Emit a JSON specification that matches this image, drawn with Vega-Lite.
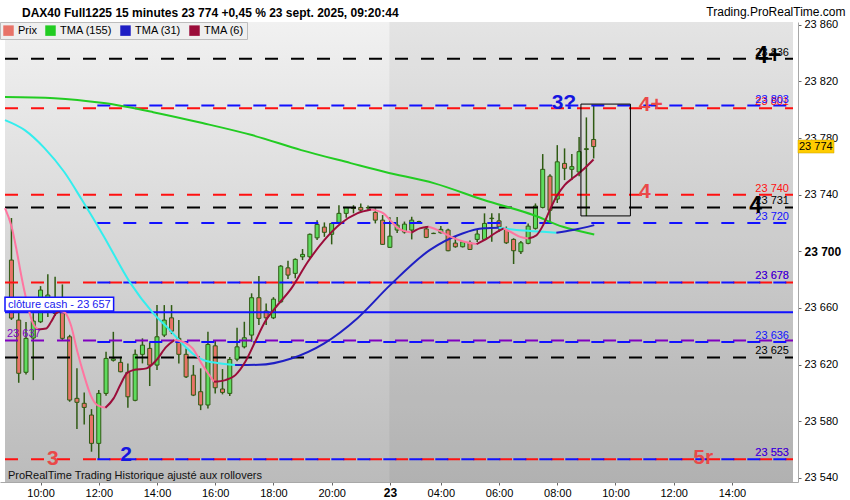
{
  "$schema": "https://vega.github.io/schema/vega-lite/v6.json",
  "width": 798,
  "height": 460,
  "autosize": {"type": "none"},
  "padding": {"left": 0, "top": 22, "right": 52, "bottom": 18},
  "background": "#ffffff",
  "title": {
    "text": "DAX40 Full1225 15 minutes 23 774 +0,45 % 23 sept. 2025, 09:20:44",
    "anchor": "start",
    "frame": "group",
    "orient": "top",
    "offset": 0,
    "dx": 22,
    "dy": 24,
    "baseline": "alphabetic",
    "font": "Liberation Sans",
    "fontSize": 12,
    "fontWeight": "bold",
    "color": "#000000"
  },
  "datasets": {
    "fond": [{"t1": -4.885, "t2": 103.39, "p1": 23537, "p2": 23862}],
    "jour": [{"t1": 47.93, "t2": 103.39, "p1": 23537, "p2": 23862}],
    "bougies": [
      {"t": -4, "o": 23693.8, "h": 23723.5, "l": 23651.5, "c": 23652.8},
      {"t": -3, "o": 23651.4, "h": 23657.0, "l": 23607.1, "c": 23613.8},
      {"t": -2, "o": 23614.5, "h": 23650.0, "l": 23613.0, "c": 23638.5},
      {"t": -1, "o": 23638.7, "h": 23656.3, "l": 23609.0, "c": 23650.7},
      {"t": 0, "o": 23650.2, "h": 23675.4, "l": 23649.3, "c": 23672.6},
      {"t": 1, "o": 23657.1, "h": 23683.7, "l": 23653.5, "c": 23669.1},
      {"t": 2, "o": 23656.1, "h": 23682.0, "l": 23654.2, "c": 23664.1},
      {"t": 3, "o": 23662.0, "h": 23676.6, "l": 23637.3, "c": 23638.5},
      {"t": 4, "o": 23639.6, "h": 23641.0, "l": 23593.7, "c": 23594.9},
      {"t": 5, "o": 23596.1, "h": 23617.3, "l": 23574.4, "c": 23593.3},
      {"t": 6, "o": 23592.6, "h": 23600.3, "l": 23577.7, "c": 23589.7},
      {"t": 7, "o": 23584.3, "h": 23588.5, "l": 23558.4, "c": 23564.3},
      {"t": 8, "o": 23564.3, "h": 23602.0, "l": 23553.0, "c": 23599.6},
      {"t": 9, "o": 23599.6, "h": 23629.0, "l": 23598.0, "c": 23624.3},
      {"t": 10, "o": 23623.0, "h": 23643.1, "l": 23622.1, "c": 23624.0},
      {"t": 11, "o": 23621.5, "h": 23625.5, "l": 23614.5, "c": 23614.9},
      {"t": 12, "o": 23614.5, "h": 23620.8, "l": 23589.5, "c": 23597.2},
      {"t": 13, "o": 23594.7, "h": 23630.7, "l": 23594.0, "c": 23627.2},
      {"t": 14, "o": 23627.2, "h": 23638.5, "l": 23620.8, "c": 23633.7},
      {"t": 15, "o": 23631.4, "h": 23635.6, "l": 23604.8, "c": 23619.6},
      {"t": 16, "o": 23619.6, "h": 23662.0, "l": 23616.1, "c": 23639.6},
      {"t": 17, "o": 23640.8, "h": 23662.0, "l": 23639.4, "c": 23651.4},
      {"t": 18, "o": 23653.0, "h": 23662.0, "l": 23641.5, "c": 23643.6},
      {"t": 19, "o": 23638.5, "h": 23651.4, "l": 23620.8, "c": 23627.2},
      {"t": 20, "o": 23627.2, "h": 23631.4, "l": 23610.4, "c": 23611.3},
      {"t": 21, "o": 23612.5, "h": 23619.6, "l": 23597.7, "c": 23598.4},
      {"t": 22, "o": 23600.8, "h": 23617.3, "l": 23587.8, "c": 23591.4},
      {"t": 23, "o": 23591.4, "h": 23643.1, "l": 23589.0, "c": 23634.2},
      {"t": 24, "o": 23633.2, "h": 23637.3, "l": 23599.6, "c": 23603.6},
      {"t": 25, "o": 23602.7, "h": 23616.8, "l": 23598.9, "c": 23600.3},
      {"t": 26, "o": 23599.6, "h": 23625.3, "l": 23597.7, "c": 23623.6},
      {"t": 27, "o": 23623.8, "h": 23646.0, "l": 23622.4, "c": 23632.5},
      {"t": 28, "o": 23632.5, "h": 23650.2, "l": 23631.4, "c": 23638.9},
      {"t": 29, "o": 23640.8, "h": 23670.3, "l": 23636.1, "c": 23667.2},
      {"t": 30, "o": 23667.2, "h": 23682.5, "l": 23647.9, "c": 23652.6},
      {"t": 31, "o": 23657.8, "h": 23663.2, "l": 23647.9, "c": 23653.0},
      {"t": 32, "o": 23653.0, "h": 23667.6, "l": 23652.1, "c": 23666.2},
      {"t": 33, "o": 23664.3, "h": 23690.2, "l": 23663.4, "c": 23689.5},
      {"t": 34, "o": 23688.3, "h": 23693.3, "l": 23680.4, "c": 23683.2},
      {"t": 35, "o": 23684.4, "h": 23695.0, "l": 23680.9, "c": 23694.3},
      {"t": 36, "o": 23696.1, "h": 23701.6, "l": 23693.8, "c": 23697.8},
      {"t": 37, "o": 23696.1, "h": 23712.5, "l": 23695.0, "c": 23712.0},
      {"t": 38, "o": 23709.5, "h": 23722.0, "l": 23708.0, "c": 23719.0},
      {"t": 39, "o": 23717.1, "h": 23720.4, "l": 23710.2, "c": 23713.4},
      {"t": 40, "o": 23712.0, "h": 23720.2, "l": 23704.9, "c": 23719.7},
      {"t": 41, "o": 23720.4, "h": 23732.6, "l": 23720.0, "c": 23726.8},
      {"t": 42, "o": 23726.8, "h": 23731.2, "l": 23723.7, "c": 23731.0},
      {"t": 43, "o": 23730.2, "h": 23732.6, "l": 23726.8, "c": 23730.6},
      {"t": 44, "o": 23731.0, "h": 23733.8, "l": 23728.5, "c": 23729.1},
      {"t": 45, "o": 23730.7, "h": 23732.3, "l": 23729.1, "c": 23730.9},
      {"t": 46, "o": 23727.5, "h": 23730.3, "l": 23719.7, "c": 23722.0},
      {"t": 47, "o": 23722.0, "h": 23725.6, "l": 23704.5, "c": 23704.9},
      {"t": 48, "o": 23702.8, "h": 23724.0, "l": 23702.5, "c": 23710.7},
      {"t": 49, "o": 23715.0, "h": 23724.2, "l": 23712.9, "c": 23718.5},
      {"t": 50, "o": 23713.6, "h": 23721.0, "l": 23712.5, "c": 23719.2},
      {"t": 51, "o": 23715.0, "h": 23724.4, "l": 23708.4, "c": 23722.0},
      {"t": 52, "o": 23720.8, "h": 23721.6, "l": 23720.3, "c": 23721.0},
      {"t": 53, "o": 23715.8, "h": 23717.8, "l": 23709.3, "c": 23709.8},
      {"t": 54, "o": 23712.7, "h": 23713.2, "l": 23712.2, "c": 23712.5},
      {"t": 55, "o": 23713.1, "h": 23717.8, "l": 23712.5, "c": 23715.5},
      {"t": 56, "o": 23715.0, "h": 23716.0, "l": 23700.0, "c": 23700.4},
      {"t": 57, "o": 23705.8, "h": 23710.2, "l": 23702.5, "c": 23703.2},
      {"t": 58, "o": 23703.2, "h": 23707.3, "l": 23702.7, "c": 23706.7},
      {"t": 59, "o": 23706.0, "h": 23707.6, "l": 23700.9, "c": 23701.3},
      {"t": 60, "o": 23708.4, "h": 23715.0, "l": 23706.5, "c": 23712.2},
      {"t": 61, "o": 23708.4, "h": 23726.8, "l": 23707.9, "c": 23719.7},
      {"t": 62, "o": 23723.1, "h": 23726.8, "l": 23706.7, "c": 23723.4},
      {"t": 63, "o": 23721.5, "h": 23726.8, "l": 23713.8, "c": 23717.3},
      {"t": 64, "o": 23715.5, "h": 23717.5, "l": 23705.2, "c": 23706.0},
      {"t": 65, "o": 23708.4, "h": 23709.2, "l": 23691.0, "c": 23700.4},
      {"t": 66, "o": 23699.7, "h": 23707.3, "l": 23698.0, "c": 23706.0},
      {"t": 67, "o": 23705.6, "h": 23719.6, "l": 23705.0, "c": 23717.8},
      {"t": 68, "o": 23716.2, "h": 23733.8, "l": 23715.3, "c": 23732.0},
      {"t": 69, "o": 23731.0, "h": 23768.7, "l": 23730.3, "c": 23757.9},
      {"t": 70, "o": 23753.1, "h": 23754.5, "l": 23720.1, "c": 23729.0},
      {"t": 71, "o": 23736.9, "h": 23775.0, "l": 23734.1, "c": 23763.2},
      {"t": 72, "o": 23762.1, "h": 23772.7, "l": 23750.3, "c": 23758.6},
      {"t": 73, "o": 23757.9, "h": 23768.7, "l": 23750.3, "c": 23759.8},
      {"t": 74, "o": 23756.0, "h": 23780.7, "l": 23753.1, "c": 23770.4},
      {"t": 75, "o": 23771.9, "h": 23794.6, "l": 23724.9, "c": 23772.5},
      {"t": 76, "o": 23779.0, "h": 23803.0, "l": 23765.6, "c": 23774.0}
    ],
    "niveaux": [
      {"p": 23836, "k": "noir", "trait": "tirets", "t1": -4.885, "t2": 103.39, "fin": "23 836"},
      {"p": 23801, "k": "rouge", "trait": "tirets", "t1": -4.885, "t2": 103.39, "fin": "23 801"},
      {"p": 23740, "k": "rouge", "trait": "tirets", "t1": -4.885, "t2": 103.39, "fin": "23 740"},
      {"p": 23731, "k": "noir", "trait": "tirets", "t1": -4.885, "t2": 103.39, "fin": "23 731"},
      {"p": 23678, "k": "rouge", "trait": "tirets", "t1": -4.885, "t2": 103.39, "fin": "23 678"},
      {"p": 23637, "k": "violet", "trait": "tirets", "t1": -4.885, "t2": 103.39, "debut": "23 637"},
      {"p": 23625, "k": "noir", "trait": "tirets", "t1": -4.885, "t2": 103.39, "fin": "23 625"},
      {"p": 23553, "k": "rouge", "trait": "tirets", "t1": -4.885, "t2": 103.39, "fin": "23 553"},
      {"p": 23803, "k": "bleu", "trait": "tirets", "t1": 7.8, "t2": 103.39, "fin": "23 803"},
      {"p": 23720, "k": "bleu", "trait": "tirets", "t1": 7.8, "t2": 103.39, "fin": "23 720"},
      {"p": 23678, "k": "bleu", "trait": "tirets", "t1": 7.8, "t2": 103.39, "fin": "23 678"},
      {"p": 23636, "k": "bleu", "trait": "tirets", "t1": 7.8, "t2": 103.39, "fin": "23 636"},
      {"p": 23553, "k": "bleu", "trait": "tirets", "t1": 7.8, "t2": 103.39, "fin": "23 553"},
      {"p": 23657, "k": "bleu", "trait": "plein", "t1": -4.885, "t2": 103.39}
    ],
    "moyennes": [
      {"k": "TMA (155)", "seg": "v", "t": -4.885, "p": 23809.0},
      {"k": "TMA (155)", "seg": "v", "t": 1.9, "p": 23808.2},
      {"k": "TMA (155)", "seg": "v", "t": 8.68, "p": 23804.7},
      {"k": "TMA (155)", "seg": "v", "t": 15.47, "p": 23798.3},
      {"k": "TMA (155)", "seg": "v", "t": 22.25, "p": 23790.6},
      {"k": "TMA (155)", "seg": "v", "t": 29.04, "p": 23782.1},
      {"k": "TMA (155)", "seg": "v", "t": 35.82, "p": 23771.5},
      {"k": "TMA (155)", "seg": "v", "t": 42.61, "p": 23762.3},
      {"k": "TMA (155)", "seg": "v", "t": 47.35, "p": 23756.0},
      {"k": "TMA (155)", "seg": "v", "t": 54.14, "p": 23748.0},
      {"k": "TMA (155)", "seg": "v", "t": 60.92, "p": 23736.2},
      {"k": "TMA (155)", "seg": "v", "t": 67.71, "p": 23725.6},
      {"k": "TMA (155)", "seg": "v", "t": 71.78, "p": 23717.3},
      {"k": "TMA (155)", "seg": "v", "t": 76.08, "p": 23711.9},

      {"k": "TMA (31) b", "seg": "c1", "t": -4.885, "p": 23792.7},
      {"k": "TMA (31) b", "seg": "c1", "t": -2.17, "p": 23785.6},
      {"k": "TMA (31) b", "seg": "c1", "t": 0.54, "p": 23772.9},
      {"k": "TMA (31) b", "seg": "c1", "t": 3.26, "p": 23756.0},
      {"k": "TMA (31) b", "seg": "c1", "t": 5.7, "p": 23736.2},
      {"k": "TMA (31) b", "seg": "c1", "t": 8.68, "p": 23710.7},
      {"k": "TMA (31) b", "seg": "c1", "t": 12.35, "p": 23677.5},
      {"k": "TMA (31) b", "seg": "c1", "t": 15.47, "p": 23656.3},
      {"k": "TMA (31) b", "seg": "c1", "t": 17.77, "p": 23644.3},
      {"k": "TMA (31) b", "seg": "c1", "t": 19.95, "p": 23632.3},
      {"k": "TMA (31) b", "seg": "c1", "t": 21.17, "p": 23626.7},
      {"k": "TMA (31) b", "seg": "c1", "t": 22.25, "p": 23623.5},
      {"k": "TMA (31) b", "seg": "c1", "t": 24.29, "p": 23621.0},
      {"k": "TMA (31) b", "seg": "c1", "t": 26.73, "p": 23619.6},
      {"k": "TMA (31)", "seg": "b1", "t": 26.73, "p": 23619.6},
      {"k": "TMA (31)", "seg": "b1", "t": 29.95, "p": 23619.8},
      {"k": "TMA (31)", "seg": "b1", "t": 34.46, "p": 23624.3},
      {"k": "TMA (31)", "seg": "b1", "t": 38.98, "p": 23635.0},
      {"k": "TMA (31)", "seg": "b1", "t": 43.51, "p": 23652.6},
      {"k": "TMA (31)", "seg": "b1", "t": 48.03, "p": 23676.1},
      {"k": "TMA (31)", "seg": "b1", "t": 53.46, "p": 23700.8},
      {"k": "TMA (31)", "seg": "b1", "t": 57.98, "p": 23712.6},
      {"k": "TMA (31)", "seg": "b1", "t": 60.92, "p": 23716.2},
      {"k": "TMA (31)", "seg": "b1", "t": 62.96, "p": 23716.6},
      {"k": "TMA (31) b", "seg": "c2", "t": 62.96, "p": 23716.6},
      {"k": "TMA (31) b", "seg": "c2", "t": 65.4, "p": 23715.0},
      {"k": "TMA (31) b", "seg": "c2", "t": 69.06, "p": 23713.8},
      {"k": "TMA (31) b", "seg": "c2", "t": 70.87, "p": 23713.1},
      {"k": "TMA (31)", "seg": "b2", "t": 70.87, "p": 23713.1},
      {"k": "TMA (31)", "seg": "b2", "t": 73.13, "p": 23715.0},
      {"k": "TMA (31)", "seg": "b2", "t": 76.08, "p": 23718.5},

      {"k": "TMA (6) b", "seg": "r1", "t": -4.885, "p": 23730.5},
      {"k": "TMA (6) b", "seg": "r1", "t": -3.976, "p": 23717.3},
      {"k": "TMA (6) b", "seg": "r1", "t": -3.297, "p": 23700.9},
      {"k": "TMA (6) b", "seg": "r1", "t": -2.619, "p": 23682.0},
      {"k": "TMA (6) b", "seg": "r1", "t": -1.94, "p": 23665.5},
      {"k": "TMA (6) b", "seg": "r1", "t": -1.045, "p": 23649.1},
      {"k": "TMA (6) b", "seg": "r1", "t": -0.366, "p": 23644.8},
      {"k": "TMA (6)", "seg": "r2", "t": -0.366, "p": 23644.8},
      {"k": "TMA (6)", "seg": "r2", "t": 0.773, "p": 23645.5},
      {"k": "TMA (6)", "seg": "r2", "t": 1.452, "p": 23650.2},
      {"k": "TMA (6)", "seg": "r2", "t": 2.13, "p": 23656.1},
      {"k": "TMA (6)", "seg": "r2", "t": 2.714, "p": 23657.8},
      {"k": "TMA (6) b", "seg": "r3", "t": 2.714, "p": 23657.8},
      {"k": "TMA (6) b", "seg": "r3", "t": 3.256, "p": 23657.1},
      {"k": "TMA (6) b", "seg": "r3", "t": 4.166, "p": 23647.9},
      {"k": "TMA (6) b", "seg": "r3", "t": 5.061, "p": 23629.0},
      {"k": "TMA (6) b", "seg": "r3", "t": 5.97, "p": 23612.5},
      {"k": "TMA (6) b", "seg": "r3", "t": 6.879, "p": 23598.4},
      {"k": "TMA (6) b", "seg": "r3", "t": 7.775, "p": 23591.4},
      {"k": "TMA (6) b", "seg": "r3", "t": 8.915, "p": 23589.5},
      {"k": "TMA (6)", "seg": "r4", "t": 8.915, "p": 23589.5},
      {"k": "TMA (6)", "seg": "r4", "t": 10.041, "p": 23596.1},
      {"k": "TMA (6)", "seg": "r4", "t": 10.95, "p": 23605.5},
      {"k": "TMA (6)", "seg": "r4", "t": 11.845, "p": 23613.8},
      {"k": "TMA (6)", "seg": "r4", "t": 12.754, "p": 23616.1},
      {"k": "TMA (6)", "seg": "r4", "t": 14.559, "p": 23617.3},
      {"k": "TMA (6)", "seg": "r4", "t": 15.916, "p": 23623.1},
      {"k": "TMA (6)", "seg": "r4", "t": 17.273, "p": 23632.5},
      {"k": "TMA (6)", "seg": "r4", "t": 18.413, "p": 23637.3},
      {"k": "TMA (6) b", "seg": "r5", "t": 18.413, "p": 23637.3},
      {"k": "TMA (6) b", "seg": "r5", "t": 19.77, "p": 23635.6},
      {"k": "TMA (6) b", "seg": "r5", "t": 20.9, "p": 23631.4},
      {"k": "TMA (6) b", "seg": "r5", "t": 22.25, "p": 23619.6},
      {"k": "TMA (6) b", "seg": "r5", "t": 23.84, "p": 23607.8},
      {"k": "TMA (6)", "seg": "r6", "t": 23.84, "p": 23607.8},
      {"k": "TMA (6)", "seg": "r6", "t": 25.41, "p": 23609.0},
      {"k": "TMA (6)", "seg": "r6", "t": 26.77, "p": 23612.5},
      {"k": "TMA (6)", "seg": "r6", "t": 28.13, "p": 23621.9},
      {"k": "TMA (6)", "seg": "r6", "t": 29.49, "p": 23636.1},
      {"k": "TMA (6)", "seg": "r6", "t": 30.84, "p": 23650.2},
      {"k": "TMA (6)", "seg": "r6", "t": 32.2, "p": 23659.7},
      {"k": "TMA (6)", "seg": "r6", "t": 34.46, "p": 23673.8},
      {"k": "TMA (6)", "seg": "r6", "t": 36.73, "p": 23692.6},
      {"k": "TMA (6)", "seg": "r6", "t": 38.98, "p": 23707.9},
      {"k": "TMA (6)", "seg": "r6", "t": 41.25, "p": 23719.7},
      {"k": "TMA (6)", "seg": "r6", "t": 43.51, "p": 23726.8},
      {"k": "TMA (6)", "seg": "r6", "t": 45.45, "p": 23729.5},
      {"k": "TMA (6) b", "seg": "r7", "t": 45.45, "p": 23729.5},
      {"k": "TMA (6) b", "seg": "r7", "t": 47.12, "p": 23726.8},
      {"k": "TMA (6) b", "seg": "r7", "t": 48.03, "p": 23722.0},
      {"k": "TMA (6) b", "seg": "r7", "t": 49.16, "p": 23716.2},
      {"k": "TMA (6) b", "seg": "r7", "t": 50.98, "p": 23713.2},
      {"k": "TMA (6)", "seg": "r8", "t": 50.98, "p": 23713.2},
      {"k": "TMA (6)", "seg": "r8", "t": 52.1, "p": 23716.2},
      {"k": "TMA (6)", "seg": "r8", "t": 53.32, "p": 23717.3},
      {"k": "TMA (6) b", "seg": "r9", "t": 53.32, "p": 23717.3},
      {"k": "TMA (6) b", "seg": "r9", "t": 54.59, "p": 23715.0},
      {"k": "TMA (6) b", "seg": "r9", "t": 56.4, "p": 23710.2},
      {"k": "TMA (6) b", "seg": "r9", "t": 58.21, "p": 23706.7},
      {"k": "TMA (6) b", "seg": "r9", "t": 59.91, "p": 23705.1},
      {"k": "TMA (6)", "seg": "r10", "t": 59.91, "p": 23705.1},
      {"k": "TMA (6)", "seg": "r10", "t": 61.37, "p": 23709.1},
      {"k": "TMA (6)", "seg": "r10", "t": 62.73, "p": 23713.8},
      {"k": "TMA (6)", "seg": "r10", "t": 63.64, "p": 23716.2},
      {"k": "TMA (6) b", "seg": "r11", "t": 63.64, "p": 23716.2},
      {"k": "TMA (6) b", "seg": "r11", "t": 64.55, "p": 23713.8},
      {"k": "TMA (6) b", "seg": "r11", "t": 65.9, "p": 23710.2},
      {"k": "TMA (6) b", "seg": "r11", "t": 67.03, "p": 23709.1},
      {"k": "TMA (6)", "seg": "r12", "t": 67.03, "p": 23709.1},
      {"k": "TMA (6)", "seg": "r12", "t": 68.15, "p": 23711.4},
      {"k": "TMA (6)", "seg": "r12", "t": 69.06, "p": 23718.5},
      {"k": "TMA (6)", "seg": "r12", "t": 69.97, "p": 23729.1},
      {"k": "TMA (6)", "seg": "r12", "t": 70.87, "p": 23738.5},
      {"k": "TMA (6)", "seg": "r12", "t": 72.01, "p": 23746.8},
      {"k": "TMA (6)", "seg": "r12", "t": 73.37, "p": 23752.6},
      {"k": "TMA (6)", "seg": "r12", "t": 74.49, "p": 23757.4},
      {"k": "TMA (6)", "seg": "r12", "t": 75.98, "p": 23764.9}
    ],
    "reperes": [
      {"t": 100.0, "p": 23837.9, "txt": "4+", "k": "noir"},
      {"t": 98.24, "p": 23732.0, "txt": "4", "k": "noir"},
      {"t": 83.85, "p": 23803.3, "txt": "4+", "k": "rouge clair"},
      {"t": 83.04, "p": 23742.2, "txt": "4", "k": "rouge clair"},
      {"t": 71.91, "p": 23804.7, "txt": "3?", "k": "bleu vif"},
      {"t": 1.7, "p": 23553.2, "txt": "3", "k": "rouge clair"},
      {"t": 11.74, "p": 23556.0, "txt": "2", "k": "bleu vif"},
      {"t": 91.04, "p": 23553.9, "txt": "5r", "k": "rouge clair"}
    ],
    "cloture": [{"t1": -4.885, "t2": 10.04, "p1": 23657.9, "p2": 23667.6, "txt": "clôture cash -  23 657"}],
    "cadre": [{"t1": 74.25, "t2": 81.05, "p1": 23725, "p2": 23804}],
    "notes": [{"t": -4.885, "p": 23541.2, "txt": "ProRealTime Trading  Historique ajusté aux rollovers"}],
    "dernier": [{"t": 103.39, "p": 23774, "txt": "23 774"}]
  },
  "layer": [
    {
      "data": {"name": "fond"},
      "mark": {
        "type": "rect",
        "color": {
          "gradient": "linear", "x1": 0, "y1": 0, "x2": 0, "y2": 1,
          "stops": [{"offset": 0, "color": "#f1f1f1"}, {"offset": 1, "color": "#bbbbbb"}]
        }
      },
      "encoding": {
        "x": {
          "field": "t1", "type": "quantitative",
          "scale": {"domain": [-4.885, 103.39], "nice": false, "zero": false},
          "axis": {
            "title": null,
            "values": [0, 8, 16, 24, 32, 40, 48, 55, 63, 71, 79, 87, 95],
            "labelExpr": "datum.value == 48 ? '23' : pad('' + (datum.value < 48 ? 10 + datum.value / 4 : 4 + (datum.value - 55) / 4), 2, '0', 'left') + ':00'",
            "labelFontWeight": {"condition": {"test": "datum.value == 48", "value": "bold"}, "value": "normal"},
            "labelFontSize": {"condition": {"test": "datum.value == 48", "value": 12}, "value": 11},
            "labelOverlap": false,
            "labelFlush": false,
            "labelPadding": 2,
            "tickSize": 3
          }
        },
        "x2": {"field": "t2"},
        "y": {
          "field": "p1", "type": "quantitative",
          "scale": {"domain": [23537, 23862], "nice": false, "zero": false},
          "axis": {
            "orient": "right",
            "title": "Trading.ProRealTime.com",
            "titleAngle": 0,
            "titleAlign": "right",
            "titleBaseline": "alphabetic",
            "titleX": 47,
            "titleY": -7,
            "titleFont": "Liberation Sans",
            "titleFontSize": 12,
            "titleFontWeight": "normal",
            "titleColor": "#000000",
            "values": [23540, 23550, 23560, 23570, 23580, 23590, 23600, 23610, 23620, 23630, 23640, 23650, 23660, 23670, 23680, 23690, 23700, 23710, 23720, 23730, 23740, 23750, 23760, 23770, 23780, 23790, 23800, 23810, 23820, 23830, 23840, 23850, 23860],
            "labelExpr": "datum.value % 20 == 0 ? replace(format(datum.value, ','), ',', ' ') : ''",
            "labelFontWeight": {"condition": {"test": "datum.value % 100 == 0", "value": "bold"}, "value": "normal"},
            "labelFontSize": {"condition": {"test": "datum.value % 100 == 0", "value": 12}, "value": 11},
            "labelOverlap": false,
            "labelFlush": false,
            "labelPadding": 3,
            "tickSize": 3
          }
        },
        "y2": {"field": "p2"}
      }
    },
    {
      "data": {"name": "jour"},
      "mark": {"type": "rect", "color": "#000000", "opacity": 0.05},
      "encoding": {
        "x": {"field": "t1", "type": "quantitative"},
        "x2": {"field": "t2"},
        "y": {"field": "p1", "type": "quantitative"},
        "y2": {"field": "p2"}
      }
    },
    {
      "data": {"name": "bougies"},
      "mark": {"type": "rule", "color": "#2f5b13", "strokeWidth": 1.5},
      "encoding": {
        "x": {"field": "t", "type": "quantitative"},
        "y": {"field": "l", "type": "quantitative"},
        "y2": {"field": "h"}
      }
    },
    {
      "data": {"name": "bougies"},
      "mark": {"type": "bar", "width": 4, "stroke": "#2f5b13", "strokeWidth": 1},
      "encoding": {
        "x": {"field": "t", "type": "quantitative"},
        "y": {"field": "o", "type": "quantitative"},
        "y2": {"field": "c"},
        "fill": {"condition": {"test": "datum.c >= datum.o", "value": "#5edb5e"}, "value": "#e87368"}
      }
    },
    {
      "data": {"name": "niveaux"},
      "mark": {"type": "rule", "strokeWidth": 2},
      "encoding": {
        "x": {"field": "t1", "type": "quantitative"},
        "x2": {"field": "t2"},
        "y": {"field": "p", "type": "quantitative"},
        "color": {
          "field": "k", "type": "nominal",
          "scale": {
            "domain": ["Prix", "TMA (155)", "TMA (31)", "TMA (6)", "TMA (31) b", "TMA (6) b", "noir", "rouge", "bleu", "violet", "rouge clair", "bleu vif"],
            "range": ["#e87368", "#22cc22", "#1f1fc4", "#9b0d3a", "#33eeee", "#ff75a0", "#000000", "#ff1111", "#1111ff", "#8000c0", "#ea4848", "#1515e0"]
          },
          "legend": {
            "values": ["Prix", "TMA (155)", "TMA (31)", "TMA (6)"],
            "orient": "none",
            "legendX": 0,
            "legendY": 0,
            "direction": "horizontal",
            "title": null,
            "symbolType": "square",
            "symbolSize": 110,
            "symbolStrokeWidth": 0,
            "labelFont": "Liberation Sans",
            "labelFontSize": 11,
            "labelColor": "#000000",
            "labelOffset": 4,
            "columnPadding": 8,
            "padding": 3,
            "fillColor": "#efefef",
            "strokeColor": "#bdbdbd",
            "encode": {"symbols": {"update": {"fill": {"scale": "color", "field": "value"}, "opacity": {"value": 1}}}}
          }
        },
        "strokeDash": {
          "field": "trait", "type": "nominal",
          "scale": {"domain": ["tirets", "plein"], "range": [[13, 13], [1, 0]]},
          "legend": null
        }
      }
    },
    {
      "data": {"name": "moyennes"},
      "mark": {"type": "line", "strokeWidth": 2, "interpolate": "monotone"},
      "encoding": {
        "x": {"field": "t", "type": "quantitative"},
        "y": {"field": "p", "type": "quantitative"},
        "color": {"field": "k", "type": "nominal"},
        "detail": {"field": "seg"},
        "order": {"field": "t", "type": "quantitative"}
      }
    },
    {
      "data": {"name": "niveaux"},
      "transform": [{"filter": "datum.fin"}],
      "mark": {"type": "text", "align": "right", "baseline": "alphabetic", "dx": -4, "dy": -3, "font": "Liberation Sans", "fontSize": 11},
      "encoding": {
        "x": {"field": "t2", "type": "quantitative"},
        "y": {"field": "p", "type": "quantitative"},
        "text": {"field": "fin"},
        "color": {"field": "k", "type": "nominal"}
      }
    },
    {
      "data": {"name": "niveaux"},
      "transform": [{"filter": "datum.debut"}],
      "mark": {"type": "text", "align": "left", "baseline": "alphabetic", "dx": 2, "dy": -3, "font": "Liberation Sans", "fontSize": 11},
      "encoding": {
        "x": {"field": "t1", "type": "quantitative"},
        "y": {"field": "p", "type": "quantitative"},
        "text": {"field": "debut"},
        "color": {"field": "k", "type": "nominal"}
      }
    },
    {
      "data": {"name": "reperes"},
      "transform": [{"filter": "datum.k == 'noir'"}],
      "mark": {"type": "text", "align": "center", "baseline": "middle", "font": "Liberation Sans", "fontSize": 23, "fontWeight": "bold"},
      "encoding": {
        "x": {"field": "t", "type": "quantitative"},
        "y": {"field": "p", "type": "quantitative"},
        "text": {"field": "txt"},
        "color": {"field": "k", "type": "nominal"}
      }
    },
    {
      "data": {"name": "reperes"},
      "transform": [{"filter": "datum.k != 'noir'"}],
      "mark": {"type": "text", "align": "center", "baseline": "middle", "font": "Liberation Sans", "fontSize": 21, "fontWeight": "bold"},
      "encoding": {
        "x": {"field": "t", "type": "quantitative"},
        "y": {"field": "p", "type": "quantitative"},
        "text": {"field": "txt"},
        "color": {"field": "k", "type": "nominal"}
      }
    },
    {
      "data": {"name": "cadre"},
      "mark": {"type": "rect", "fill": null, "fillOpacity": 0, "stroke": "#000000", "strokeWidth": 1},
      "encoding": {
        "x": {"field": "t1", "type": "quantitative"},
        "x2": {"field": "t2"},
        "y": {"field": "p1", "type": "quantitative"},
        "y2": {"field": "p2"}
      }
    },
    {
      "data": {"name": "cloture"},
      "mark": {"type": "rect", "fill": "#ffffff", "stroke": "#1111ff", "strokeWidth": 1.5},
      "encoding": {
        "x": {"field": "t1", "type": "quantitative"},
        "x2": {"field": "t2"},
        "y": {"field": "p1", "type": "quantitative"},
        "y2": {"field": "p2"}
      }
    },
    {
      "data": {"name": "cloture"},
      "mark": {"type": "text", "align": "left", "baseline": "alphabetic", "dx": 3, "dy": -3, "font": "Liberation Sans", "fontSize": 11, "color": "#1a1aee"},
      "encoding": {
        "x": {"field": "t1", "type": "quantitative"},
        "y": {"field": "p1", "type": "quantitative"},
        "text": {"field": "txt"}
      }
    },
    {
      "data": {"name": "notes"},
      "mark": {"type": "text", "align": "left", "baseline": "middle", "dx": 3, "font": "Liberation Sans", "fontSize": 11, "color": "#111111"},
      "encoding": {
        "x": {"field": "t", "type": "quantitative"},
        "y": {"field": "p", "type": "quantitative"},
        "text": {"field": "txt"}
      }
    },
    {
      "data": {"name": "dernier"},
      "mark": {"type": "rect", "fill": "#ffcc00", "stroke": "#c9a200", "strokeWidth": 0.5, "xOffset": 5, "x2Offset": 41, "yOffset": -6.5, "y2Offset": 6.5},
      "encoding": {
        "x": {"field": "t", "type": "quantitative"},
        "x2": {"field": "t"},
        "y": {"field": "p", "type": "quantitative"},
        "y2": {"field": "p"}
      }
    },
    {
      "data": {"name": "dernier"},
      "mark": {"type": "text", "align": "left", "baseline": "middle", "dx": 6, "font": "Liberation Sans", "fontSize": 11, "color": "#000000"},
      "encoding": {
        "x": {"field": "t", "type": "quantitative"},
        "y": {"field": "p", "type": "quantitative"},
        "text": {"field": "txt"}
      }
    }
  ],
  "config": {
    "view": {"stroke": null},
    "font": "Liberation Sans",
    "axis": {
      "grid": false,
      "labelFont": "Liberation Sans",
      "labelColor": "#000000",
      "domainColor": "#a8a8a8",
      "tickColor": "#666666"
    }
  }
}
